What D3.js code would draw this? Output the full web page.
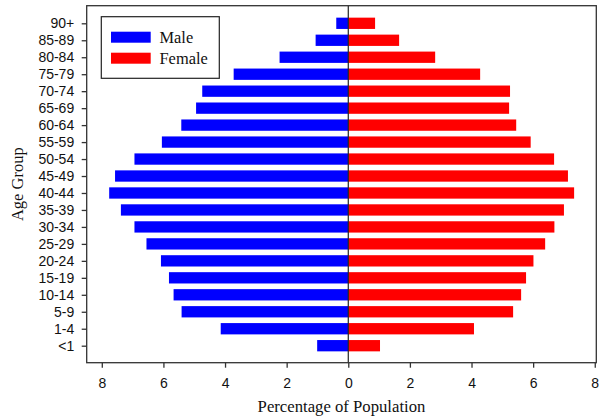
<!DOCTYPE html>
<html><head><meta charset="utf-8">
<script src="https://cdn.jsdelivr.net/npm/d3@7"></script>
<style>body{margin:0;background:#fff}svg{display:block}</style>
</head><body>
<svg id="c" width="601" height="419"></svg>
<script>
const ageGroups = ["<1","1-4","5-9","10-14","15-19","20-24","25-29","30-34","35-39","40-44","45-49","50-54","55-59","60-64","65-69","70-74","75-79","80-84","85-89","90+"];
const maleValues = [1.01,4.14,5.41,5.67,5.82,6.08,6.55,6.94,7.38,7.76,7.57,6.94,6.05,5.42,4.94,4.74,3.72,2.23,1.06,0.39];
const femaleValues = [1.03,4.08,5.35,5.61,5.77,6.01,6.39,6.69,7.0,7.33,7.13,6.68,5.92,5.45,5.22,5.25,4.28,2.82,1.65,0.87];
const xTicks = [-8,-6,-4,-2,0,2,4,6,8];
const legendLabels = ["Male","Female"];
const colors = ["#0000ff","#ff0000"];

const svg = d3.select("#c");
const L = 86.7, R = 596.3, T = 5.7, B = 362.7;
const x = d3.scaleLinear().domain([-8.49, 8.05]).range([L, R]);
const yc = d3.scalePoint().domain(ageGroups).range([345.7, 23.3]);
const bh = 11.3;

const g = svg.append("g");
g.selectAll("rect.m").data(ageGroups).join("rect").attr("class","m")
  .attr("x", (d,i)=>x(-maleValues[i])).attr("width",(d,i)=>x(0)-x(-maleValues[i]))
  .attr("y", d=>yc(d)-bh/2).attr("height", bh).attr("fill", colors[0]);
g.selectAll("rect.f").data(ageGroups).join("rect").attr("class","f")
  .attr("x", x(0)).attr("width",(d,i)=>x(femaleValues[i])-x(0))
  .attr("y", d=>yc(d)-bh/2).attr("height", bh).attr("fill", colors[1]);

svg.append("line").attr("x1", x(0)).attr("x2", x(0)).attr("y1", T).attr("y2", B)
  .attr("stroke","#222").attr("stroke-width",1.2);

svg.append("rect").attr("x",L).attr("y",T).attr("width",R-L).attr("height",B-T)
  .attr("fill","none").attr("stroke","#333").attr("stroke-width",1.3);

const xa = svg.append("g").attr("transform",`translate(0,${B})`)
  .call(d3.axisBottom(x).tickValues(xTicks).tickFormat(d=>Math.abs(d)).tickSize(5).tickPadding(10));
xa.select(".domain").remove();
xa.selectAll("line").attr("stroke","#333").attr("stroke-width",1.3);
xa.selectAll("text").attr("font-family","Liberation Sans, Arial, sans-serif").attr("font-size","14px").attr("fill","#111");

const ya = svg.append("g").attr("transform",`translate(${L},0)`)
  .call(d3.axisLeft(yc).tickSize(5).tickPadding(7.5));
ya.select(".domain").remove();
ya.selectAll("line").attr("stroke","#333").attr("stroke-width",1.3);
ya.selectAll("text").attr("font-family","Liberation Sans, Arial, sans-serif").attr("font-size","14px").attr("fill","#111");

svg.append("text").attr("x",(L+R)/2).attr("y",411.7).attr("text-anchor","middle")
  .attr("font-family","Liberation Serif, Times New Roman, serif").attr("font-size","16.7px").attr("fill","#111")
  .text("Percentage of Population");
svg.append("text").attr("transform",`translate(23,${(T+B)/2}) rotate(-90)`).attr("text-anchor","middle")
  .attr("font-family","Liberation Serif, Times New Roman, serif").attr("font-size","16.5px").attr("fill","#111")
  .text("Age Group");

const lg = svg.append("g");
lg.append("rect").attr("x",101.3).attr("y",16.7).attr("width",118).attr("height",61.6)
  .attr("fill","#fff").attr("stroke","#222").attr("stroke-width",1.2);
legendLabels.forEach((t,i)=>{
  const yy = 31.7 + i*21;
  lg.append("rect").attr("x",111).attr("y",yy).attr("width",39.7).attr("height",11).attr("fill",colors[i]);
  lg.append("text").attr("x",159.5).attr("y",yy+11.5).attr("font-family","Liberation Serif, Times New Roman, serif")
    .attr("font-size","16.4px").attr("fill","#111").text(t);
});
</script>
</body></html>
